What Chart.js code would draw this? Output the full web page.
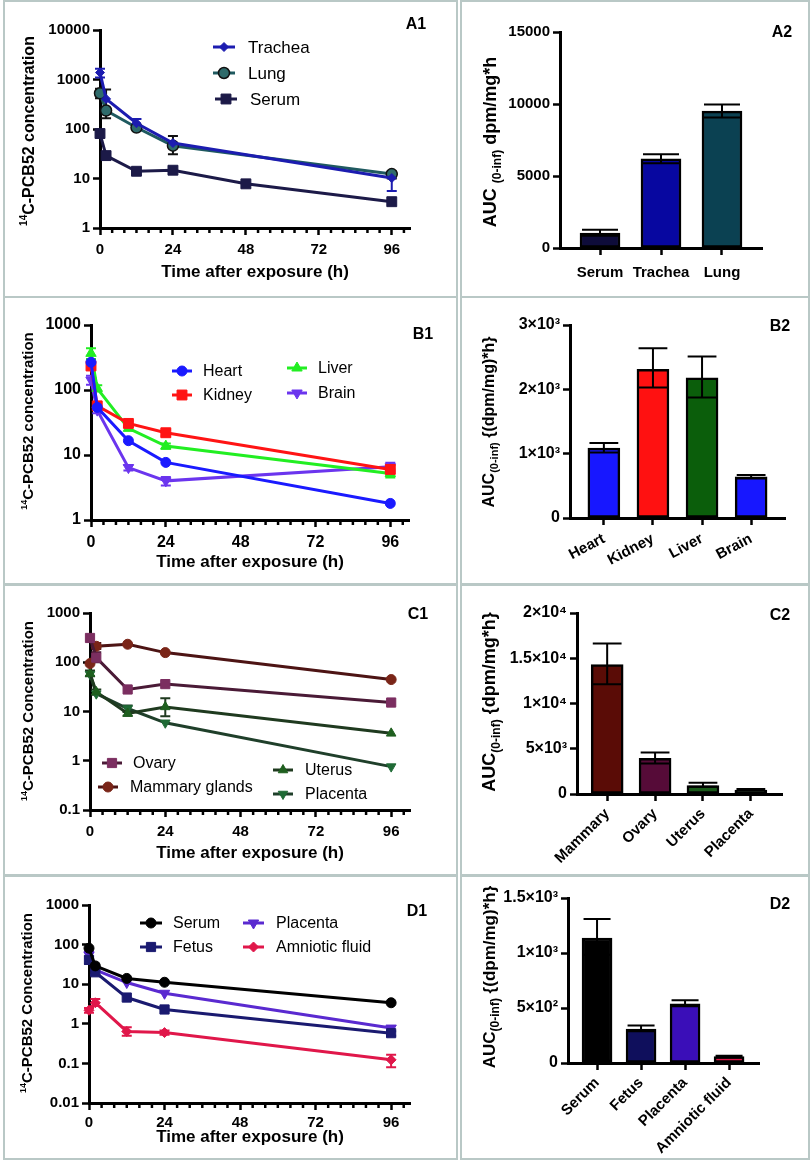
<!DOCTYPE html>
<html><head><meta charset="utf-8">
<script src="https://cdn.jsdelivr.net/npm/chart.js@4.4.1/dist/chart.umd.min.js"></script>
<style>
html,body{margin:0;padding:0;background:#fff;}
#wrap{position:relative;width:810px;height:1160px;overflow:hidden;background:#fff;}
#wrap canvas{position:absolute;}
.frame{position:absolute;border:2px solid #b9c8c6;box-sizing:border-box;pointer-events:none;}
</style></head><body><div id="wrap"></div>
<script>
const FONT = '"Liberation Sans", Arial, Helvetica, sans-serif';

// ---------- shared
const timeTicks = [0, 24, 48, 72, 96];
const timeMinor = [4, 8, 12, 16, 20, 28, 32, 36, 40, 44, 52, 56, 60, 64, 68, 76, 80, 84, 88, 92, 100];
const timesStd = [0, 2, 12, 24, 96];

// ---------- A1
const a1SerumTimes = [0, 2, 12, 24, 48, 96];
const a1Trachea = [1380, 405, 131, 52, 10.2];
const a1TracheaErr = [[1100, 1650], null, [105, 160], null, [5.6, 13.5]];
const a1Lung = [527, 236, 107, 46, 12.3];
const a1LungErr = [[420, 650], [165, 630], null, [31, 72], [10, 14]];
const a1Serum = [81, 29, 14, 14.7, 7.8, 3.4];
const a1YTicks = [1, 10, 100, 1000, 10000];

// ---------- A2
const a2Cats = ['Serum', 'Trachea', 'Lung'];
const a2Auc = [1040, 6190, 9510];
const a2Err = [[850, 1270], [5885, 6508], [9070, 9970]];
const a2YTicks = [0, 5000, 10000, 15000];
const a2YLabels = ['0', '5000', '10000', '15000'];

// ---------- B1
const b1Heart = [267, 54, 16.6, 7.7, 1.8];
const b1Kidney = [234, 57, 30.6, 22, 6.0];
const b1KidneyErr = [null, null, [27.5, 33.5], [19.5, 24.5], [5.2, 7.0]];
const b1Liver = [366, 106, 25.7, 13.7, 5.2];
const b1LiverErr = [[300, 440], [95, 118], null, [12.5, 15], [4.5, 6.0]];
const b1Brain = [142, 49, 6.4, 4.0, 6.6];
const b1BrainErr = [[120, 165], [44, 55], [5.8, 7.0], [3.4, 4.6], [5.6, 7.6]];
const b1YTicks = [1, 10, 100, 1000];

// ---------- B2
const b2Cats = ['Heart', 'Kidney', 'Liver', 'Brain'];
const b2Auc = [1086, 2312, 2178, 641];
const b2Err = [[1019, 1164], [2028, 2638], [1872, 2509], [615, 667]];
const b2YTicks = [0, 1000, 2000, 3000];
const b2YLabels = ['0', '1×10³', '2×10³', '3×10³'];

// ---------- C1
const c1Ovary = [311, 124, 28, 36, 15.2];
const c1OvaryErr = [null, [100, 160], null, null, null];
const c1Mammary = [94, 211, 232, 157, 44.5];
const c1MammaryErr = [null, [185, 245], null, null, null];
const c1Uterus = [59, 25, 9.1, 12.4, 3.6];
const c1UterusErr = [[52, 68], [22, 28], [8.2, 10], [8, 18.5], null];
const c1Placenta = [57, 23, 11.5, 5.9, 0.76];
const c1PlacentaErr = [null, null, [9.8, 13.2], null, null];
const c1YTicks = [0.1, 1, 10, 100, 1000];

// ---------- C2
const c2Cats = ['Mammary', 'Ovary', 'Uterus', 'Placenta'];
const c2Auc = [14300, 3934, 919, 441];
const c2Err = [[12132, 16618], [3382, 4596], [800, 1250], [350, 551]];
const c2YTicks = [0, 5000, 10000, 15000, 20000];
const c2YLabels = ['0', '5×10³', '1×10⁴', '1.5×10⁴', '2×10⁴'];

// ---------- D1
const d1Serum = [81, 29, 14, 11.2, 3.4];
const d1Fetus = [41, 20, 4.6, 2.3, 0.58];
const d1FetusErr = [[33, 50], [17, 23], null, null, [0.5, 0.65]];
const d1Placenta = [55, 23, 11, 5.9, 0.78];
const d1PlacentaErr = [[45, 65], null, null, null, null];
const d1Amniotic = [2.2, 3.4, 0.64, 0.6, 0.123];
const d1AmnioticErr = [[1.9, 2.5], [2.8, 4.2], [0.5, 0.82], [0.53, 0.68], [0.08, 0.165]];
const d1YTicks = [0.01, 0.1, 1, 10, 100, 1000];

// ---------- D2
const d2Cats = ['Serum', 'Fetus', 'Placenta', 'Amniotic fluid'];
const d2Auc = [1136, 309, 539, 58];
const d2Err = [[985, 1309], [288, 342], [515, 570], [50, 67]];
const d2YTicks = [0, 500, 1000, 1500];
const d2YLabels = ['0', '5×10²', '1×10³', '1.5×10³'];

// ================= rendering helpers =================
const wrap = document.getElementById('wrap');
function makeCanvas(r) {
  const c = document.createElement('canvas');
  c.width = r.w; c.height = r.h;
  c.style.left = r.x + 'px'; c.style.top = r.y + 'px';
  c.style.width = r.w + 'px'; c.style.height = r.h + 'px';
  wrap.appendChild(c);
  const f = document.createElement('div');
  f.className = 'frame';
  f.style.left = r.x + 'px'; f.style.top = r.y + 'px';
  f.style.width = r.w + 'px'; f.style.height = r.h + 'px';
  wrap.appendChild(f);
  return c;
}

function drawRich(ctx, segs, size, cx, cy) {
  const parts = segs.map(s => {
    const sz = s.kind === 'sup' ? Math.round(size * 0.62) : s.kind === 'sub' ? Math.round(size * 0.68) : size;
    const dy = s.kind === 'sup' ? -size * 0.42 : s.kind === 'sub' ? size * 0.25 : 0;
    return {t: s.t, font: 'bold ' + sz + 'px ' + FONT, dy};
  });
  ctx.save();
  ctx.translate(cx, cy);
  ctx.rotate(-Math.PI / 2);
  let total = 0;
  parts.forEach(s => { ctx.font = s.font; s.w = ctx.measureText(s.t).width; total += s.w; });
  let x = -total / 2;
  ctx.textAlign = 'left'; ctx.textBaseline = 'alphabetic'; ctx.fillStyle = '#000';
  parts.forEach(s => { ctx.font = s.font; ctx.fillText(s.t, x, s.dy + size * 0.36); x += s.w; });
  ctx.restore();
}
const seg = (t, kind) => ({t, kind: kind || 'main'});

function drawErrors(chart) {
  const ctx = chart.ctx, ys = chart.scales.y;
  chart.data.datasets.forEach((ds, di) => {
    if (!ds.err) return;
    const meta = chart.getDatasetMeta(di);
    ctx.save();
    ctx.strokeStyle = ds.errColor; ctx.lineWidth = ds.errWidth;
    meta.data.forEach((el, i) => {
      const e = ds.err[i]; if (!e) return;
      const x = el.x, y1 = ys.getPixelForValue(e[0]), y2 = ys.getPixelForValue(e[1]);
      const c = ds.errCap;
      ctx.beginPath();
      ctx.moveTo(x, y1); ctx.lineTo(x, y2);
      ctx.moveTo(x - c, y1); ctx.lineTo(x + c, y1);
      ctx.moveTo(x - c, y2); ctx.lineTo(x + c, y2);
      ctx.stroke();
    });
    ctx.restore();
  });
}

function makeDeco(p) {
  const L = (x, y) => [x - p.rect.x, y - p.rect.y];
  return {
    id: 'deco',
    beforeDatasetsDraw(chart) { if (p.kind === 'line') drawErrors(chart); },
    afterDatasetsDraw(chart) { if (p.kind === 'bar') drawErrors(chart); },
    afterDraw(chart) {
      const ctx = chart.ctx;
      if (p.kind === 'line') {
        const xs = chart.scales.x, yb = chart.chartArea.bottom;
        ctx.save(); ctx.strokeStyle = '#000'; ctx.lineWidth = 2.5;
        timeMinor.forEach(v => {
          const x = xs.getPixelForValue(v);
          ctx.beginPath(); ctx.moveTo(x, yb); ctx.lineTo(x, yb + 5); ctx.stroke();
        });
        ctx.restore();
      }
      ctx.save();
      ctx.font = 'bold 16px ' + FONT; ctx.fillStyle = '#000';
      ctx.textAlign = 'center'; ctx.textBaseline = 'middle';
      let q = L(p.tag.x, p.tag.y); ctx.fillText(p.tag.t, q[0], q[1]);
      if (p.xTitle) {
        ctx.font = 'bold 17px ' + FONT;
        q = L(p.xTitle.x, p.xTitle.y); ctx.fillText(p.xTitle.t, q[0], q[1]);
      }
      ctx.restore();
      q = L(p.yTitle.x, p.yTitle.y);
      drawRich(ctx, p.yTitle.segs, p.yTitle.size, q[0], q[1]);
      if (p.legend) {
        p.legend.forEach(it => {
          const ds = chart.data.datasets[it.ds];
          const a = L(it.x1, it.y), b = L(it.x2, it.y), t = L(it.tx, it.y);
          ctx.save();
          ctx.strokeStyle = ds.borderColor; ctx.lineWidth = 3;
          ctx.beginPath(); ctx.moveTo(a[0], a[1]); ctx.lineTo(b[0], b[1]); ctx.stroke();
          ctx.fillStyle = ds.pointBackgroundColor; ctx.strokeStyle = ds.pointBorderColor;
          ctx.lineWidth = ds.pointBorderWidth;
          Chart.helpers.drawPoint(ctx, {pointStyle: ds.pointStyle, rotation: ds.pointRotation || 0,
            radius: ds.pointRadius, borderWidth: ds.pointBorderWidth}, (a[0] + b[0]) / 2, a[1]);
          ctx.fillStyle = '#000'; ctx.font = (p.legendSize || 16) + 'px ' + FONT;
          ctx.textAlign = 'left'; ctx.textBaseline = 'middle';
          ctx.fillText(ds.label, t[0], t[1] + 1);
          ctx.restore();
        });
      }
    }
  };
}

const tickFont = size => ({family: FONT, size, weight: 'bold'});
const axisBorder = {display: true, color: '#000', width: 3};
const axisGrid = {display: true, offset: false, drawOnChartArea: false, drawTicks: true, tickLength: 7, tickWidth: 2.5, tickColor: '#000'};

function lineChart(p) {
  const cv = makeCanvas(p.rect);
  const datasets = p.series.map(s => ({
    label: s.label,
    data: s.y.map((v, i) => ({x: s.x[i], y: v})),
    borderColor: s.line, backgroundColor: s.fill,
    pointBackgroundColor: s.fill, pointBorderColor: s.pborder || s.fill,
    pointBorderWidth: s.pbw || 1, borderWidth: 3,
    pointStyle: s.style, pointRadius: s.r, pointRotation: s.rot || 0,
    err: s.err || null, errColor: s.ecolor || s.line, errWidth: 2, errCap: 5,
    tension: 0, clip: false
  }));
  new Chart(cv, {
    type: 'line',
    data: {datasets},
    options: {
      responsive: false, animation: false, events: [],
      layout: {padding: {left: 0, bottom: 0, top: p.area.top - p.rect.y, right: p.rect.x + p.rect.w - p.area.right}},
      plugins: {legend: {display: false}, tooltip: {enabled: false}},
      scales: {
        x: {
          type: 'linear', min: 0, max: p.xmax,
          afterFit: s => { s.height = p.rect.y + p.rect.h - p.area.bottom; },
          afterBuildTicks: s => { s.ticks = timeTicks.map(v => ({value: v})); },
          ticks: {font: tickFont(p.tickSize), color: '#000', padding: p.xPad, maxRotation: 0, autoSkip: false, callback: v => String(v)},
          border: axisBorder, grid: axisGrid
        },
        y: {
          type: 'logarithmic', min: p.yTicks[0], max: p.yTicks[p.yTicks.length - 1],
          afterFit: s => { s.width = p.area.left - p.rect.x; },
          afterBuildTicks: s => { s.ticks = p.yTicks.map(v => ({value: v})); },
          ticks: {font: tickFont(p.tickSize), color: '#000', padding: 3, autoSkip: false, callback: v => String(v)},
          border: axisBorder, grid: axisGrid
        }
      }
    },
    plugins: [makeDeco(p)]
  });
}

function barChart(p) {
  const cv = makeCanvas(p.rect);
  new Chart(cv, {
    type: 'bar',
    data: {datasets: [{
      data: p.values.map((v, i) => ({x: i, y: v})),
      backgroundColor: p.colors, borderColor: '#000', borderWidth: 2.5, borderSkipped: false,
      barThickness: p.barW,
      err: p.err, errColor: '#000', errWidth: 2, errCap: p.barW * 0.45
    }]},
    options: {
      responsive: false, animation: false, events: [],
      layout: {padding: {left: 0, bottom: 0, top: p.area.top - p.rect.y, right: p.rect.x + p.rect.w - p.area.right}},
      plugins: {legend: {display: false}, tooltip: {enabled: false}},
      scales: {
        x: {
          type: 'linear', min: p.xmin, max: p.xmax, offset: false,
          afterFit: s => { s.height = p.rect.y + p.rect.h - p.area.bottom; },
          afterBuildTicks: s => { s.ticks = p.cats.map((c, i) => ({value: i})); },
          ticks: {font: tickFont(15), color: '#000', padding: p.xPad, minRotation: p.rot, maxRotation: p.rot, autoSkip: false,
            callback: v => p.cats[Math.round(v)]},
          border: axisBorder, grid: axisGrid
        },
        y: {
          type: 'linear', min: 0, max: p.yTicks[p.yTicks.length - 1],
          afterFit: s => { s.width = p.area.left - p.rect.x; },
          afterBuildTicks: s => { s.ticks = p.yTicks.map(v => ({value: v})); },
          ticks: {font: tickFont(p.yTickSize), color: '#000', padding: 3, autoSkip: false,
            callback: v => p.yLabels[p.yTicks.indexOf(v)]},
          border: axisBorder, grid: axisGrid
        }
      }
    },
    plugins: [makeDeco(p)]
  });
}

const pcbSegs = word => [seg('14', 'sup'), seg('C-PCB52 ' + word)];

// ================= panels =================
lineChart({
  kind: 'line', rect: {x: 3, y: 0, w: 455, h: 298}, area: {left: 100, top: 30, right: 410, bottom: 228},
  xmax: 102, yTicks: a1YTicks, xPad: 6, tickSize: 15,
  tag: {t: 'A1', x: 416, y: 25}, xTitle: {t: 'Time after exposure (h)', x: 255, y: 272},
  yTitle: {x: 28, y: 131, size: 16, segs: pcbSegs('concentration')},
  legendSize: 17,
  series: [
    {label: 'Trachea', x: timesStd, y: a1Trachea, err: a1TracheaErr, line: '#1c1cb0', fill: '#1c1cb0', style: 'rectRot', r: 4.5},
    {label: 'Lung', x: timesStd, y: a1Lung, err: a1LungErr, line: '#1f5a60', fill: '#2f6b6b', pborder: '#111', pbw: 1.5, style: 'circle', r: 5.5, ecolor: '#111'},
    {label: 'Serum', x: a1SerumTimes, y: a1Serum, line: '#1c1a48', fill: '#1c1a48', style: 'rect', r: 7}
  ],
  legend: [
    {ds: 0, x1: 213, x2: 235, y: 47, tx: 248},
    {ds: 1, x1: 213, x2: 235, y: 73, tx: 248},
    {ds: 2, x1: 215, x2: 237, y: 99, tx: 250}
  ]
});

barChart({
  kind: 'bar', rect: {x: 460, y: 0, w: 350, h: 298}, area: {left: 560, top: 32, right: 762, bottom: 248},
  xmin: -0.656, xmax: 2.656, cats: a2Cats, values: a2Auc, err: a2Err, yTicks: a2YTicks, yLabels: a2YLabels,
  colors: ['#0e0c3a', '#0707a0', '#0b4152'], barW: 40, rot: 0, xPad: 9, yTickSize: 15,
  tag: {t: 'A2', x: 782, y: 33},
  yTitle: {x: 490, y: 142, size: 18, segs: [seg('AUC '), seg('(0-inf)', 'sub'), seg(' dpm/mg*h')]}
});

lineChart({
  kind: 'line', rect: {x: 3, y: 296, w: 455, h: 290}, area: {left: 91, top: 325, right: 409, bottom: 520},
  xmax: 102, yTicks: b1YTicks, xPad: 6, tickSize: 16,
  tag: {t: 'B1', x: 423, y: 335}, xTitle: {t: 'Time after exposure (h)', x: 250, y: 562},
  yTitle: {x: 28, y: 421, size: 15, segs: pcbSegs('concentration')},
  series: [
    {label: 'Heart', x: timesStd, y: b1Heart, line: '#1a1aff', fill: '#1a1aff', style: 'circle', r: 5},
    {label: 'Kidney', x: timesStd, y: b1Kidney, err: b1KidneyErr, line: '#ff1414', fill: '#ff1414', style: 'rect', r: 7},
    {label: 'Liver', x: timesStd, y: b1Liver, err: b1LiverErr, line: '#22ee22', fill: '#22ee22', style: 'triangle', r: 6},
    {label: 'Brain', x: timesStd, y: b1Brain, err: b1BrainErr, line: '#6b35ee', fill: '#6b35ee', style: 'triangle', rot: 180, r: 6}
  ],
  legend: [
    {ds: 0, x1: 172, x2: 192, y: 371, tx: 203},
    {ds: 1, x1: 172, x2: 192, y: 395, tx: 203},
    {ds: 2, x1: 287, x2: 307, y: 368, tx: 318},
    {ds: 3, x1: 287, x2: 307, y: 393, tx: 318}
  ]
});

barChart({
  kind: 'bar', rect: {x: 460, y: 296, w: 350, h: 290}, area: {left: 570, top: 325, right: 785, bottom: 518},
  xmin: -0.69, xmax: 3.69, cats: b2Cats, values: b2Auc, err: b2Err, yTicks: b2YTicks, yLabels: b2YLabels,
  colors: ['#1717ff', '#ff1111', '#0b5e0b', '#1717ff'], barW: 32, rot: 28, xPad: 5, yTickSize: 16,
  tag: {t: 'B2', x: 780, y: 327},
  yTitle: {x: 488, y: 422, size: 16, segs: [seg('AUC'), seg('(0-inf)', 'sub'), seg(' {(dpm/mg)*h}')]}
});

lineChart({
  kind: 'line', rect: {x: 3, y: 583, w: 455, h: 294}, area: {left: 90, top: 613, right: 410, bottom: 810},
  xmax: 102, yTicks: c1YTicks, xPad: 6, tickSize: 15,
  tag: {t: 'C1', x: 418, y: 615}, xTitle: {t: 'Time after exposure (h)', x: 250, y: 853},
  yTitle: {x: 28, y: 711, size: 15, segs: pcbSegs('Concentration')},
  series: [
    {label: 'Ovary', x: timesStd, y: c1Ovary, err: c1OvaryErr, line: '#4a1a36', fill: '#7b2e60', style: 'rect', r: 6.5},
    {label: 'Mammary glands', x: timesStd, y: c1Mammary, err: c1MammaryErr, line: '#4d1414', fill: '#7a2518', style: 'circle', r: 5},
    {label: 'Uterus', x: timesStd, y: c1Uterus, err: c1UterusErr, line: '#1f3a1f', fill: '#1f5f1f', style: 'triangle', r: 5.5},
    {label: 'Placenta', x: timesStd, y: c1Placenta, err: c1PlacentaErr, line: '#1f3f2a', fill: '#1f6a35', style: 'triangle', rot: 180, r: 5.5}
  ],
  legend: [
    {ds: 0, x1: 102, x2: 122, y: 763, tx: 133},
    {ds: 1, x1: 98, x2: 118, y: 787, tx: 130},
    {ds: 2, x1: 273, x2: 293, y: 770, tx: 305},
    {ds: 3, x1: 273, x2: 293, y: 794, tx: 305}
  ]
});

barChart({
  kind: 'bar', rect: {x: 460, y: 583, w: 350, h: 294}, area: {left: 577, top: 613, right: 782, bottom: 794},
  xmin: -0.63, xmax: 3.65, cats: c2Cats, values: c2Auc, err: c2Err, yTicks: c2YTicks, yLabels: c2YLabels,
  colors: ['#5a0c06', '#560b38', '#1a5a1a', '#1a5a1a'], barW: 32, rot: 45, xPad: 4, yTickSize: 16,
  tag: {t: 'C2', x: 780, y: 616},
  yTitle: {x: 489, y: 702, size: 18, segs: [seg('AUC'), seg('(0-inf)', 'sub'), seg(' {dpm/mg*h}')]}
});

lineChart({
  kind: 'line', rect: {x: 3, y: 874, w: 455, h: 286}, area: {left: 89, top: 905, right: 410, bottom: 1103},
  xmax: 102, yTicks: d1YTicks, xPad: 4, tickSize: 15,
  tag: {t: 'D1', x: 417, y: 912}, xTitle: {t: 'Time after exposure (h)', x: 250, y: 1137},
  yTitle: {x: 27, y: 1003, size: 15, segs: pcbSegs('Concentration')},
  series: [
    {label: 'Serum', x: timesStd, y: d1Serum, line: '#000000', fill: '#000000', style: 'circle', r: 5},
    {label: 'Fetus', x: timesStd, y: d1Fetus, err: d1FetusErr, line: '#1a1a70', fill: '#1a1a70', style: 'rect', r: 6.5},
    {label: 'Placenta', x: timesStd, y: d1Placenta, err: d1PlacentaErr, line: '#5a2ad0', fill: '#5a2ad0', style: 'triangle', rot: 180, r: 6},
    {label: 'Amniotic fluid', x: timesStd, y: d1Amniotic, err: d1AmnioticErr, line: '#e0174a', fill: '#e0174a', style: 'rectRot', r: 5}
  ],
  legend: [
    {ds: 0, x1: 140, x2: 162, y: 923, tx: 173},
    {ds: 1, x1: 140, x2: 162, y: 947, tx: 173},
    {ds: 2, x1: 243, x2: 264, y: 923, tx: 276},
    {ds: 3, x1: 243, x2: 264, y: 947, tx: 276}
  ]
});

barChart({
  kind: 'bar', rect: {x: 460, y: 874, w: 350, h: 286}, area: {left: 568, top: 898, right: 759, bottom: 1063},
  xmin: -0.66, xmax: 3.68, cats: d2Cats, values: d2Auc, err: d2Err, yTicks: d2YTicks, yLabels: d2YLabels,
  colors: ['#000000', '#0f0f5c', '#3a0eb8', '#e0184a'], barW: 30, rot: 45, xPad: 4, yTickSize: 16,
  tag: {t: 'D2', x: 780, y: 905},
  yTitle: {x: 489, y: 977, size: 17, segs: [seg('AUC'), seg('(0-inf)', 'sub'), seg(' {(dpm/mg)*h}')]}
});
</script></body></html>
